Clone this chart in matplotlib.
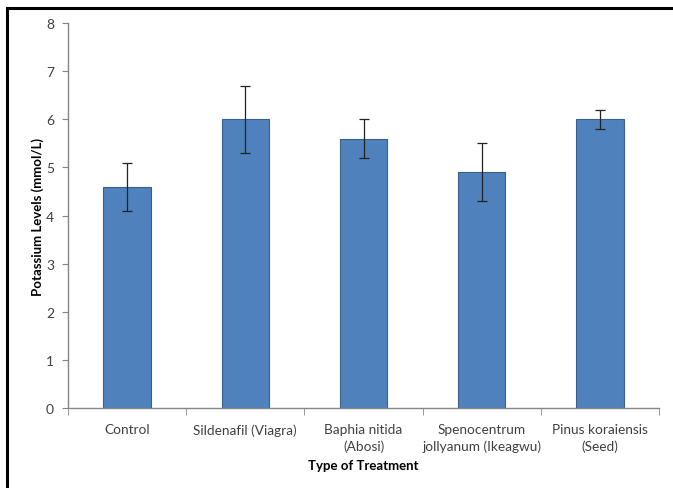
import numpy as np
import matplotlib
matplotlib.use("Agg")
import matplotlib.pyplot as plt
from matplotlib.patches import Rectangle

# data
treatments = ["Control", "Sildenafil (Viagra)", "Baphia nitida\n(Abosi)",
              "Spenocentrum\njollyanum (Ikeagwu)", "Pinus koraiensis\n(Seed)"]
potassium = [4.6, 6.0, 5.6, 4.9, 6.0]
errors = [0.5, 0.7, 0.4, 0.6, 0.2]
yticks = [0, 1, 2, 3, 4, 5, 6, 7, 8]

plt.rcParams['font.family'] = ['Lato', 'DejaVu Sans']

fig = plt.figure(figsize=(6.73, 4.89), dpi=100)
ax = fig.add_axes([68/673, 1-409/489, (659-68)/673, (409-24)/489])

x = np.arange(len(treatments))
ax.bar(x, potassium, width=0.4, color="#4F81BD", edgecolor="#3A5F8C", linewidth=0.8,
       yerr=errors, error_kw=dict(ecolor="#222222", elinewidth=0.9, capsize=3.5, capthick=0.9),
       zorder=2)

ax.set_xlim(-0.5, len(treatments) - 0.5)
ax.set_ylim(0, 8)
ax.set_xticks(x)
ax.set_xticklabels(treatments, fontsize=9.8, color="#404040", linespacing=1.4)
ax.set_yticks(yticks)
ax.set_yticklabels([str(v) for v in yticks], fontsize=10, color="#404040")
ax.tick_params(axis='x', length=0, pad=11)
ax.tick_params(axis='y', direction='out', length=4, color="#868686", pad=6)

# category boundary ticks on the x-axis
ax.set_xticks(np.arange(-0.5, len(treatments)), minor=True)
ax.tick_params(axis='x', which='minor', direction='out', length=5, color="#868686")

for s in ["top", "right"]:
    ax.spines[s].set_visible(False)
for s in ["left", "bottom"]:
    ax.spines[s].set_color("#868686")
    ax.spines[s].set_linewidth(1.0)

ax.set_ylabel("Potassium Levels (mmol/L)", fontsize=9.5, fontweight="bold", va="center")
ax.set_xlabel("Type of Treatment", fontsize=9.5, fontweight="bold", va="center")
ax.yaxis.set_label_coords((38 - 68) / 591, 0.5)
ax.xaxis.set_label_coords(0.5, -(466 - 409) / 385)

# black frame around the chart area (cut off on the right and bottom)
fig.patches.append(Rectangle((7/673, -0.2), 1.2, 1.2 - 9/489,
                             transform=fig.transFigure, fill=False,
                             edgecolor="black", linewidth=2.2))

fig.savefig("out.png", dpi=100)
